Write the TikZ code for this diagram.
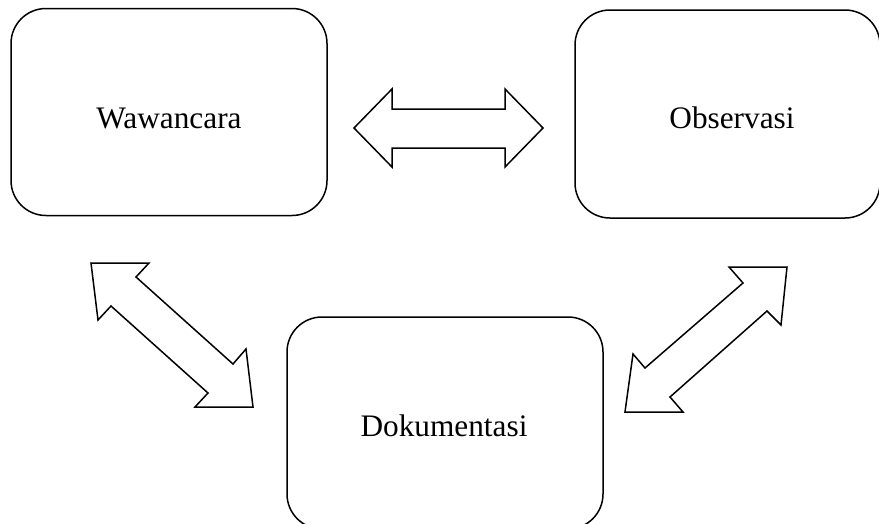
\documentclass[tikz,border=0pt]{standalone}
\usepackage{fontspec}
\setmainfont{Liberation Serif}
\begin{document}
\begin{tikzpicture}[x=1pt,y=-1pt,
  box/.style={draw,line width=1.5pt,rounded corners=35pt,inner sep=0pt},
  lbl/.style={font=\fontsize{31.3}{36}\selectfont,inner sep=0pt,anchor=base},
  blockarrow/.style={draw,line width=1.5pt,line join=miter,fill=white}]
\useasboundingbox (0,0) rectangle (879,523);
% boxes
\node[box,minimum width=316pt,minimum height=207pt] (waw) at (169,112) {};
\node[box,minimum width=305pt,minimum height=208pt] (obs) at (727.5,114) {};
\node[box,minimum width=316pt,minimum height=212pt] (dok) at (445,423) {};
\node[lbl] (twaw) at (169,128) {Wawancara};
\node[lbl] (tobs) at (732,128) {Observasi};
\node[lbl] (tdok) at (444,436) {Dokumentasi};
% horizontal double arrow
\draw[blockarrow] (354,128) -- (392,89) -- (392,109) -- (505,109) -- (505,89) -- (543,128)
  -- (505,167) -- (505,148) -- (392,148) -- (392,167) -- cycle;
% left diagonal double arrow
\draw[blockarrow] (91,263) -- (149,263) -- (136,277) -- (233,364) -- (246,349) -- (253,407)
  -- (195,407) -- (208,393) -- (111,306) -- (98,320) -- cycle;
% right diagonal double arrow
\draw[blockarrow] (787,267) -- (729,267) -- (743,283) -- (645,368) -- (633,354) -- (625,412)
  -- (683,412) -- (670,397) -- (767,311) -- (781,325) -- cycle;
\end{tikzpicture}
\end{document}
